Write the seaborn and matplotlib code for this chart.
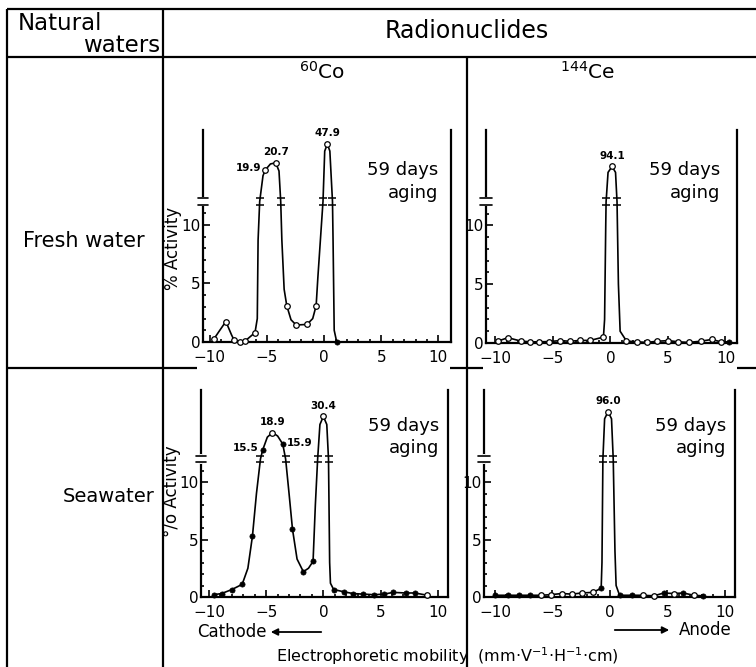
import matplotlib
matplotlib.use("Agg")
import matplotlib.pyplot as plt
from matplotlib.ticker import FixedLocator
import pandas as pd
import seaborn as sns

sns.set_theme(style="ticks")
plt.rcParams["font.family"] = ["DejaVu Sans"]
plt.rcParams["mathtext.fontset"] = "dejavusans"
plt.rcParams.update({"text.color": "black", "axes.labelcolor": "black",
                     "xtick.color": "black", "ytick.color": "black"})

W, H = 756, 667
BREAK = 12  # axis break: values above are drawn on a compressed scale

# ── Data (y in displayed units) ──────────────────────────────────────
# marks: o = open circle, f = filled dot, b = break crossing, n = line only
co_fresh_x = [-9.65, -9.2, -8.6, -8.1, -7.9, -7.4, -6.9, -6.05, -5.85, -5.78, -5.64,
              -5.35, -5.14, -4.7, -4.24, -3.95, -3.8, -3.7, -3.5, -3.27, -2.9, -2.45,
              -1.5, -1.0, -0.7, -0.55, -0.1, 0.05, 0.28, 0.5, 0.73, 0.78, 0.88, 1.1, 10.8]
co_fresh_y = [0.25, 0.9, 1.75, 0.6, 0.2, 0.0, 0.1, 0.8, 2.0, 8.7, 12.0,
              14.2, 14.7, 15.2, 15.3, 14.6, 12.0, 8.7, 4.5, 3.1, 1.9, 1.45,
              1.5, 2.0, 3.1, 5.5, 12.0, 16.3, 16.9, 16.3, 12.0, 8.7, 1.0, 0.0, 0.0]
co_fresh_m = ["o", "n", "o", "n", "o", "o", "o", "o", "n", "n", "b",
              "n", "o", "n", "o", "n", "b", "n", "n", "o", "n", "o",
              "o", "n", "o", "n", "b", "n", "o", "n", "b", "n", "n", "f", "n"]
co_fresh_peak_x = [-5.14, -4.24, 0.28]
co_fresh_peak_txt = ["19.9", "20.7", "47.9"]
co_fresh_peak_pos = ["left", "top", "top"]

ce_fresh_x = [-9.8, -8.9, -7.8, -7.0, -6.2, -5.35, -4.4, -3.5, -2.6, -1.75, -0.6,
              -0.5, -0.4, -0.37, -0.2, 0.15, 0.45, 0.58, 0.7, 0.85, 1.4,
              2.3, 3.2, 4.05, 5.05, 5.9, 6.8, 7.85, 8.8, 9.6, 10.3]
ce_fresh_y = [0.15, 0.45, 0.17, 0.1, 0.1, 0.12, 0.2, 0.15, 0.22, 0.22, 0.5,
              2.0, 10.0, 12.0, 14.5, 15.0, 14.5, 12.0, 5.0, 1.0, 0.17,
              0.1, 0.05, 0.15, 0.2, 0.1, 0.05, 0.15, 0.3, 0.1, 0.1]
ce_fresh_m = ["o", "o", "o", "o", "o", "o", "o", "o", "o", "o", "o",
              "n", "n", "b", "n", "o", "n", "b", "n", "n", "o",
              "o", "o", "o", "o", "o", "o", "o", "o", "o", "f"]
ce_fresh_peak_x = [0.15]
ce_fresh_peak_txt = ["94.1"]
ce_fresh_peak_pos = ["top"]

co_sea_x = [-9.6, -8.9, -8.0, -7.1, -6.6, -6.2, -5.85, -5.5, -5.3, -4.9, -4.45, -4.0,
            -3.55, -3.3, -3.0, -2.7, -2.3, -1.75, -1.3, -0.9, -0.7, -0.5, -0.3, 0.0,
            0.3, 0.45, 0.55, 0.62, 0.9, 1.8, 2.6, 3.5, 4.4, 5.3, 6.1, 7.2, 8.0, 9.1]
co_sea_y = [0.2, 0.3, 0.65, 1.1, 2.5, 5.3, 9.0, 12.0, 12.8, 13.9, 14.3, 14.0,
            13.3, 12.0, 9.0, 5.9, 3.3, 2.2, 2.5, 3.1, 8.0, 12.0, 15.0, 15.7,
            15.0, 12.0, 3.0, 1.2, 0.65, 0.45, 0.3, 0.25, 0.2, 0.25, 0.4, 0.35, 0.35, 0.15]
co_sea_m = ["f", "f", "f", "f", "n", "f", "n", "b", "f", "n", "o", "n",
            "f", "b", "n", "f", "n", "f", "n", "f", "n", "b", "n", "o",
            "n", "b", "n", "n", "f", "f", "f", "f", "f", "f", "f", "f", "f", "o"]
co_sea_peak_x = [-5.3, -4.45, -3.55, 0.0]
co_sea_peak_txt = ["15.5", "18.9", "15.9", "30.4"]
co_sea_peak_pos = ["left", "top", "right", "top"]

ce_sea_x = [-9.95, -8.9, -7.9, -6.95, -6.0, -5.15, -4.2, -3.25, -2.45, -1.5, -0.75,
            -0.68, -0.6, -0.45, -0.15, 0.15, 0.3, 0.45, 0.55, 0.85,
            1.95, 2.9, 3.85, 4.7, 5.55, 6.4, 7.3, 8.15]
ce_sea_y = [0.15, 0.15, 0.15, 0.15, 0.15, 0.2, 0.3, 0.25, 0.35, 0.4, 0.75,
            3.0, 12.0, 15.5, 16.1, 15.5, 12.0, 4.0, 1.0, 0.15,
            0.15, 0.15, 0.1, 0.35, 0.3, 0.35, 0.15, 0.1]
ce_sea_m = ["f", "f", "f", "f", "o", "o", "o", "o", "o", "o", "f",
            "n", "b", "n", "o", "n", "b", "n", "n", "f",
            "f", "o", "o", "f", "o", "f", "o", "f"]
ce_sea_peak_x = [-0.15]
ce_sea_peak_txt = ["96.0"]
ce_sea_peak_pos = ["top"]


def px_rect(left, right, top, bottom):
    """Axes rect in figure fraction from pixel edges (y measured downward)."""
    return [left / W, (H - bottom) / H, (right - left) / W, (bottom - top) / H]


def draw_panel(ax, xs, ys, marks, peak_x, peak_txt, peak_pos, xlim, ytop, ylabel=None):
    df = pd.DataFrame({"x": xs, "y": ys, "m": marks})
    sns.lineplot(data=df, x="x", y="y", ax=ax, color="black", linewidth=1.2,
                 sort=False, estimator=None, clip_on=False)
    opn = df[df["m"] == "o"]
    fil = df[df["m"] == "f"]
    sns.scatterplot(data=opn, x="x", y="y", ax=ax, marker="o", s=16,
                    facecolor="white", edgecolor="black", linewidth=0.9,
                    zorder=4, clip_on=False)
    sns.scatterplot(data=fil, x="x", y="y", ax=ax, marker="o", s=14,
                    color="black", edgecolor="black", linewidth=0.5,
                    zorder=4, clip_on=False)
    brk = df[df["m"] == "b"]
    for dy in (-0.28, 0.28):
        ax.plot(brk["x"], brk["y"] + dy, "_", ms=6, mew=1.1, color="black", zorder=5)

    # peak values
    for px, txt, pos in zip(peak_x, peak_txt, peak_pos):
        py = ys[xs.index(px)]
        off, ha, va = {"left": ((-3, 1), "right", "center"),
                       "right": ((3, 1), "left", "center"),
                       "top": ((0, 4), "center", "bottom")}[pos]
        ax.annotate(txt, (px, py), xytext=off, textcoords="offset points",
                    ha=ha, va=va, fontsize=7.5, fontweight="bold")

    ax.set_xlim(*xlim)
    ax.set_ylim(0, ytop)
    ax.set_facecolor("none")
    ax.set_xlabel("")
    ax.set_ylabel("")
    sns.despine(ax=ax, top=True, right=False)
    for side in ("left", "bottom", "right"):
        ax.spines[side].set_linewidth(1.6)
        ax.spines[side].set_color("black")

    ax.xaxis.set_major_locator(FixedLocator([-10, -5, 0, 5, 10]))
    ax.xaxis.set_minor_locator(FixedLocator(list(range(-10, 11))))
    ax.yaxis.set_major_locator(FixedLocator([0, 5, 10]))
    ax.yaxis.set_minor_locator(FixedLocator([1, 2, 3, 4, 6, 7, 8, 9, 11]))
    ax.tick_params(which="both", direction="in", colors="black", width=1.2,
                   labelsize=11, right=False, top=False)
    ax.tick_params(which="major", length=5)
    ax.tick_params(axis="y", which="major", pad=1.5)
    ax.tick_params(axis="x", which="major", pad=6)
    ax.tick_params(which="minor", length=2.5)

    # break symbol on the y axis
    yt = ax.get_yaxis_transform()
    ax.plot([0, 0], [BREAK - 0.22, BREAK + 0.22], color="white", lw=3,
            transform=yt, clip_on=False, zorder=3)
    for dy in (-0.28, 0.28):
        ax.plot([-0.022, 0.022], [BREAK + dy] * 2, color="black", lw=1.2,
                transform=yt, clip_on=False, zorder=4)

    if ylabel:
        ax.set_ylabel(ylabel, fontsize=12)


fig = plt.figure(figsize=(W / 100, H / 100), dpi=100)
fig.patch.set_facecolor("white")

# table frame on a full-figure pixel canvas
bg = fig.add_axes([0, 0, 1, 1])
bg.set_xlim(0, W)
bg.set_ylim(H, 0)
bg.axis("off")
lw_tab = 1.6
for (x0, x1, y0, y1) in [(7, W, 9, 9), (7, W, 57, 57), (7, 7, 9, H), (162.5, 162.5, 9, H),
                         (467, 467, 57, H), (7, 197, 368, 368), (450, 483, 368, 368),
                         (737, W, 368, 368)]:
    bg.plot([x0, x1], [y0, y1], color="black", lw=lw_tab, solid_capstyle="butt")

bg.text(18, 24, "Natural", fontsize=16.5, ha="left", va="center")
bg.text(160, 46, "waters", fontsize=16.5, ha="right", va="center")
bg.text(467, 31, "Radionuclides", fontsize=17, ha="center", va="center")
bg.text(322, 72, r"$^{60}$Co", fontsize=14.5, ha="center", va="center")
bg.text(588, 72, r"$^{144}$Ce", fontsize=14.5, ha="center", va="center")
bg.text(84, 241, "Fresh water", fontsize=15, ha="center", va="center")
bg.text(109, 497, "Seawater", fontsize=14, ha="center", va="center")

bg.text(197, 632, "Cathode", fontsize=12, ha="left", va="center")
bg.annotate("", xy=(268, 632), xytext=(324, 632),
            arrowprops=dict(arrowstyle="-|>", color="black", lw=1.3, mutation_scale=10))
bg.annotate("", xy=(672, 630), xytext=(612, 630),
            arrowprops=dict(arrowstyle="-|>", color="black", lw=1.3, mutation_scale=10))
bg.text(679, 630, "Anode", fontsize=12, ha="left", va="center")
bg.text(447, 656, r"Electrophoretic mobility  (mm$\cdot$V$^{-1}$$\cdot$H$^{-1}$$\cdot$cm)",
        fontsize=11.5, ha="center", va="center")

ax_tl = fig.add_axes(px_rect(203, 451, 130, 342))
ax_tr = fig.add_axes(px_rect(486, 737, 130, 343))
ax_bl = fig.add_axes(px_rect(201, 448, 390, 597))
ax_br = fig.add_axes(px_rect(484, 735, 390, 597))

draw_panel(ax_tl, co_fresh_x, co_fresh_y, co_fresh_m, co_fresh_peak_x, co_fresh_peak_txt,
           co_fresh_peak_pos, (-10.6, 11.1), 18.1, ylabel="% Activity")
draw_panel(ax_tr, ce_fresh_x, ce_fresh_y, ce_fresh_m, ce_fresh_peak_x, ce_fresh_peak_txt,
           ce_fresh_peak_pos, (-10.8, 11.0), 18.1)
draw_panel(ax_bl, co_sea_x, co_sea_y, co_sea_m, co_sea_peak_x, co_sea_peak_txt,
           co_sea_peak_pos, (-10.7, 10.9), 18.0, ylabel="°/o Activity")
draw_panel(ax_br, ce_sea_x, ce_sea_y, ce_sea_m, ce_sea_peak_x, ce_sea_peak_txt,
           ce_sea_peak_pos, (-10.95, 10.9), 18.0)

# ylabel x = right edge of the rotated text, in axes fraction
ax_tl.yaxis.set_label_coords(-0.084, 0.44)
ax_bl.yaxis.set_label_coords(-0.08, 0.51)

# "59 days aging" notes
for ax, xr, y1, y2 in [(ax_tl, 0.95, 0.81, 0.705), (ax_tr, 0.935, 0.81, 0.705),
                       (ax_bl, 0.965, 0.826, 0.72), (ax_br, 0.965, 0.826, 0.72)]:
    ax.text(xr, y1, "59 days", transform=ax.transAxes, fontsize=13, ha="right", va="center")
    ax.text(xr, y2, "aging", transform=ax.transAxes, fontsize=13, ha="right", va="center")

fig.savefig("out.png", dpi=100, facecolor="white")
